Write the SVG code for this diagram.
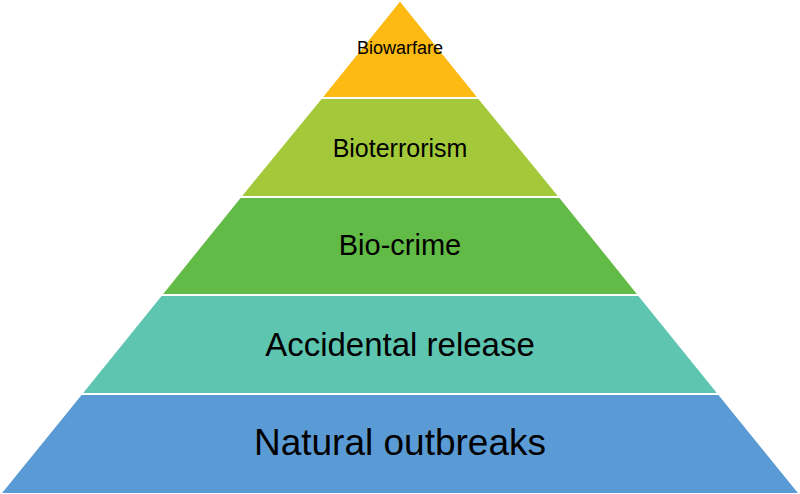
<svg xmlns="http://www.w3.org/2000/svg" width="800" height="494" viewBox="0 0 800 494">
<style>
text{font-family:"Liberation Sans",Arial,sans-serif;fill:#000;text-anchor:middle;dominant-baseline:central}
polygon{stroke:#fff;stroke-width:2}
</style>
<rect width="800" height="494" fill="#fff"/>
<g id="biowarfare"><polygon points="400,0 479,98 321,98" fill="#FDBA12"/><text x="400" y="48" font-size="18">Biowarfare</text></g>
<g id="bioterrorism"><polygon points="321,98 479,98 560,197 240,197" fill="#A3C93A"/><text x="400" y="148" font-size="25">Bioterrorism</text></g>
<g id="biocrime"><polygon points="240,197 560,197 639,295 161,295" fill="#62BB46"/><text x="400" y="245" font-size="29">Bio-crime</text></g>
<g id="accidental"><polygon points="161,295 639,295 719,394 81,394" fill="#5EC5B0"/><text x="400" y="344" font-size="33">Accidental release</text></g>
<g id="natural"><polygon points="81,394 719,394 800,494 0,494" fill="#5B9BD5"/><text x="400" y="442" font-size="37">Natural outbreaks</text></g>
<g id="connectors"/>
</svg>
